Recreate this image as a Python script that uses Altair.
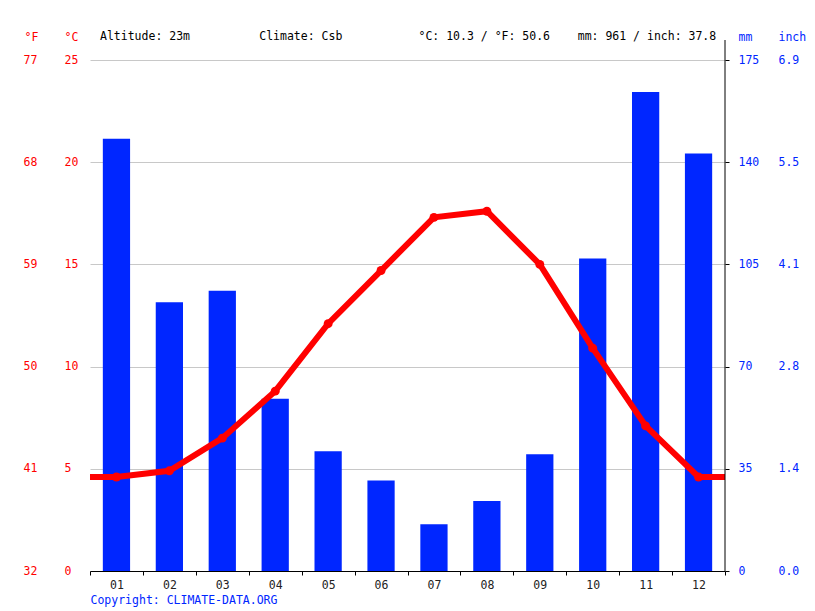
import altair as alt
import pandas as pd

# ---- data ----
months = ["01", "02", "03", "04", "05", "06", "07", "08", "09", "10", "11", "12"]
temp_c = [4.6, 4.9, 6.5, 8.8, 12.1, 14.7, 17.3, 17.6, 15.0, 10.9, 7.1, 4.6]
precip_mm = [148, 92, 96, 59, 41, 31, 16, 24, 40, 107, 164, 143]
altitude_m = 23
climate = "Csb"
c_ticks = [0, 5, 10, 15, 20, 25]
mm_ticks = [0, 35, 70, 105, 140, 175]

FONT = "DejaVu Sans Mono"
FS = 11.5
RED = "#ff0000"
BLUE = "#0026ff"
GRID = "#c8c8c8"

n = len(months)
df = pd.DataFrame({"month": months, "m": list(range(1, n + 1)),
                   "temp": temp_c, "mm": precip_mm})
df["temp_f"] = df["temp"] * 1.8 + 32
df["inch"] = df["mm"] / 25.4

line_df = pd.DataFrame({
    "m": [0.5] + list(range(1, n + 1)) + [n + 0.5],
    "temp": [temp_c[0]] + temp_c + [temp_c[-1]],
})

f_ticks = [c * 1.8 + 32 for c in c_ticks]
inch_ticks = [v / 25.4 for v in mm_ticks]
c_dom = [c_ticks[0], c_ticks[-1]]
mm_dom = [mm_ticks[0], mm_ticks[-1]]

mean_c = sum(temp_c) / n
mean_f = mean_c * 1.8 + 32
total_mm = sum(precip_mm)
NB = "\u00a0"
header = (f"Altitude: {altitude_m}m" + NB * 10 + f"Climate: {climate}" + NB * 11
          + f"°C: {mean_c:.1f} / °F: {mean_f:.1f}" + NB * 4
          + f"mm: {total_mm} / inch: {total_mm / 25.4:.1f}")
header_df = pd.DataFrame({"t": [header]})

W, H = 635, 511

xq = alt.X("m:Q", scale=alt.Scale(domain=[0.5, n + 0.5], nice=False, zero=False), axis=None)

common_title = dict(titleAngle=0, titleAlign="left", titleBaseline="alphabetic",
                    titleY=-20, titleFont=FONT, titleFontSize=FS, titleFontWeight="normal")
common_lab = dict(labelFont=FONT, labelFontSize=FS, labelOverlap=False, labelAlign="left")

bars = alt.Chart(df).mark_bar(color=BLUE, width=alt.RelativeBandSize(0.515)).encode(
    x=alt.X("month:O", sort=months,
            scale=alt.Scale(paddingInner=0, paddingOuter=0),
            axis=alt.Axis(title="Copyright: CLIMATE-DATA.ORG", labelAngle=0,
                          labelFont=FONT, labelFontSize=FS, labelColor="#222",
                          labelPadding=4, domainColor="#000", tickColor="#000",
                          tickSize=4, tickBand="extent",
                          titleFont=FONT, titleFontSize=FS, titleFontWeight="normal",
                          titleColor=BLUE, titleAnchor="start", titleAlign="left",
                          titleX=0, titleY=32, titleBaseline="alphabetic")),
    y=alt.Y("mm:Q", scale=alt.Scale(domain=mm_dom, nice=False),
            axis=alt.Axis(orient="right", values=mm_ticks, grid=False, format="d",
                          domain=False, tickColor="#000", tickSize=4,
                          labelColor=BLUE, labelPadding=9, title="mm", titleX=13,
                          titleColor=BLUE, **common_lab, **common_title)),
)

# right-hand frame line (extends above the plot as in the reference)
frame = alt.Chart(header_df).mark_rule(color="#000", strokeWidth=1).encode(
    x=alt.value(W), y=alt.value(-20), y2=alt.value(H)
)

inch_layer = alt.Chart(df).mark_point(opacity=0).encode(
    x=xq,
    y=alt.Y("inch:Q", scale=alt.Scale(domain=[mm_dom[0] / 25.4, mm_dom[1] / 25.4], nice=False),
            axis=alt.Axis(orient="right", values=inch_ticks, format=".1f", grid=False,
                          domain=False, ticks=False, tickSize=0, labelColor=BLUE,
                          labelPadding=53, title="inch", titleX=53, titleColor=BLUE,
                          **common_lab, **common_title)),
)

f_layer = alt.Chart(df).mark_point(opacity=0).encode(
    x=xq,
    y=alt.Y("temp_f:Q", scale=alt.Scale(domain=[f_ticks[0], f_ticks[-1]], nice=False, zero=False),
            axis=alt.Axis(orient="left", values=f_ticks, format="d", grid=False,
                          domain=False, ticks=False, tickSize=0, labelColor=RED,
                          labelPadding=67, title="°F", titleX=-66, titleColor=RED,
                          **common_lab, **common_title)),
)

line = alt.Chart(line_df).mark_line(color=RED, strokeWidth=6).encode(
    x=xq,
    y=alt.Y("temp:Q", scale=alt.Scale(domain=c_dom, nice=False),
            axis=alt.Axis(orient="left", values=c_ticks, format="d", grid=True,
                          gridColor=GRID, gridWidth=1, domain=False, ticks=False,
                          tickSize=0, labelColor=RED, labelPadding=26, title="°C",
                          titleX=-26, titleColor=RED, **common_lab, **common_title)),
)

pts = alt.Chart(df).mark_circle(color=RED, size=80, opacity=1).encode(
    x=xq,
    y=alt.Y("temp:Q", scale=alt.Scale(domain=c_dom, nice=False), axis=None),
)

head = alt.Chart(header_df).mark_text(
    align="left", baseline="alphabetic", font=FONT, fontSize=FS, color="#000"
).encode(text="t:N", x=alt.value(10), y=alt.value(-20))

chart = alt.layer(bars, inch_layer, f_layer, line, pts, head, frame).resolve_scale(
    x="independent", y="independent"
).properties(
    width=W, height=H,
    background="#ffffff",
    padding={"left": 82, "top": 52, "right": 82, "bottom": 36},
    autosize=alt.AutoSizeParams(type="none"),
).configure_view(strokeOpacity=0, strokeWidth=0)

chart.save("out.html", embed_options={"renderer": "svg", "actions": False})
